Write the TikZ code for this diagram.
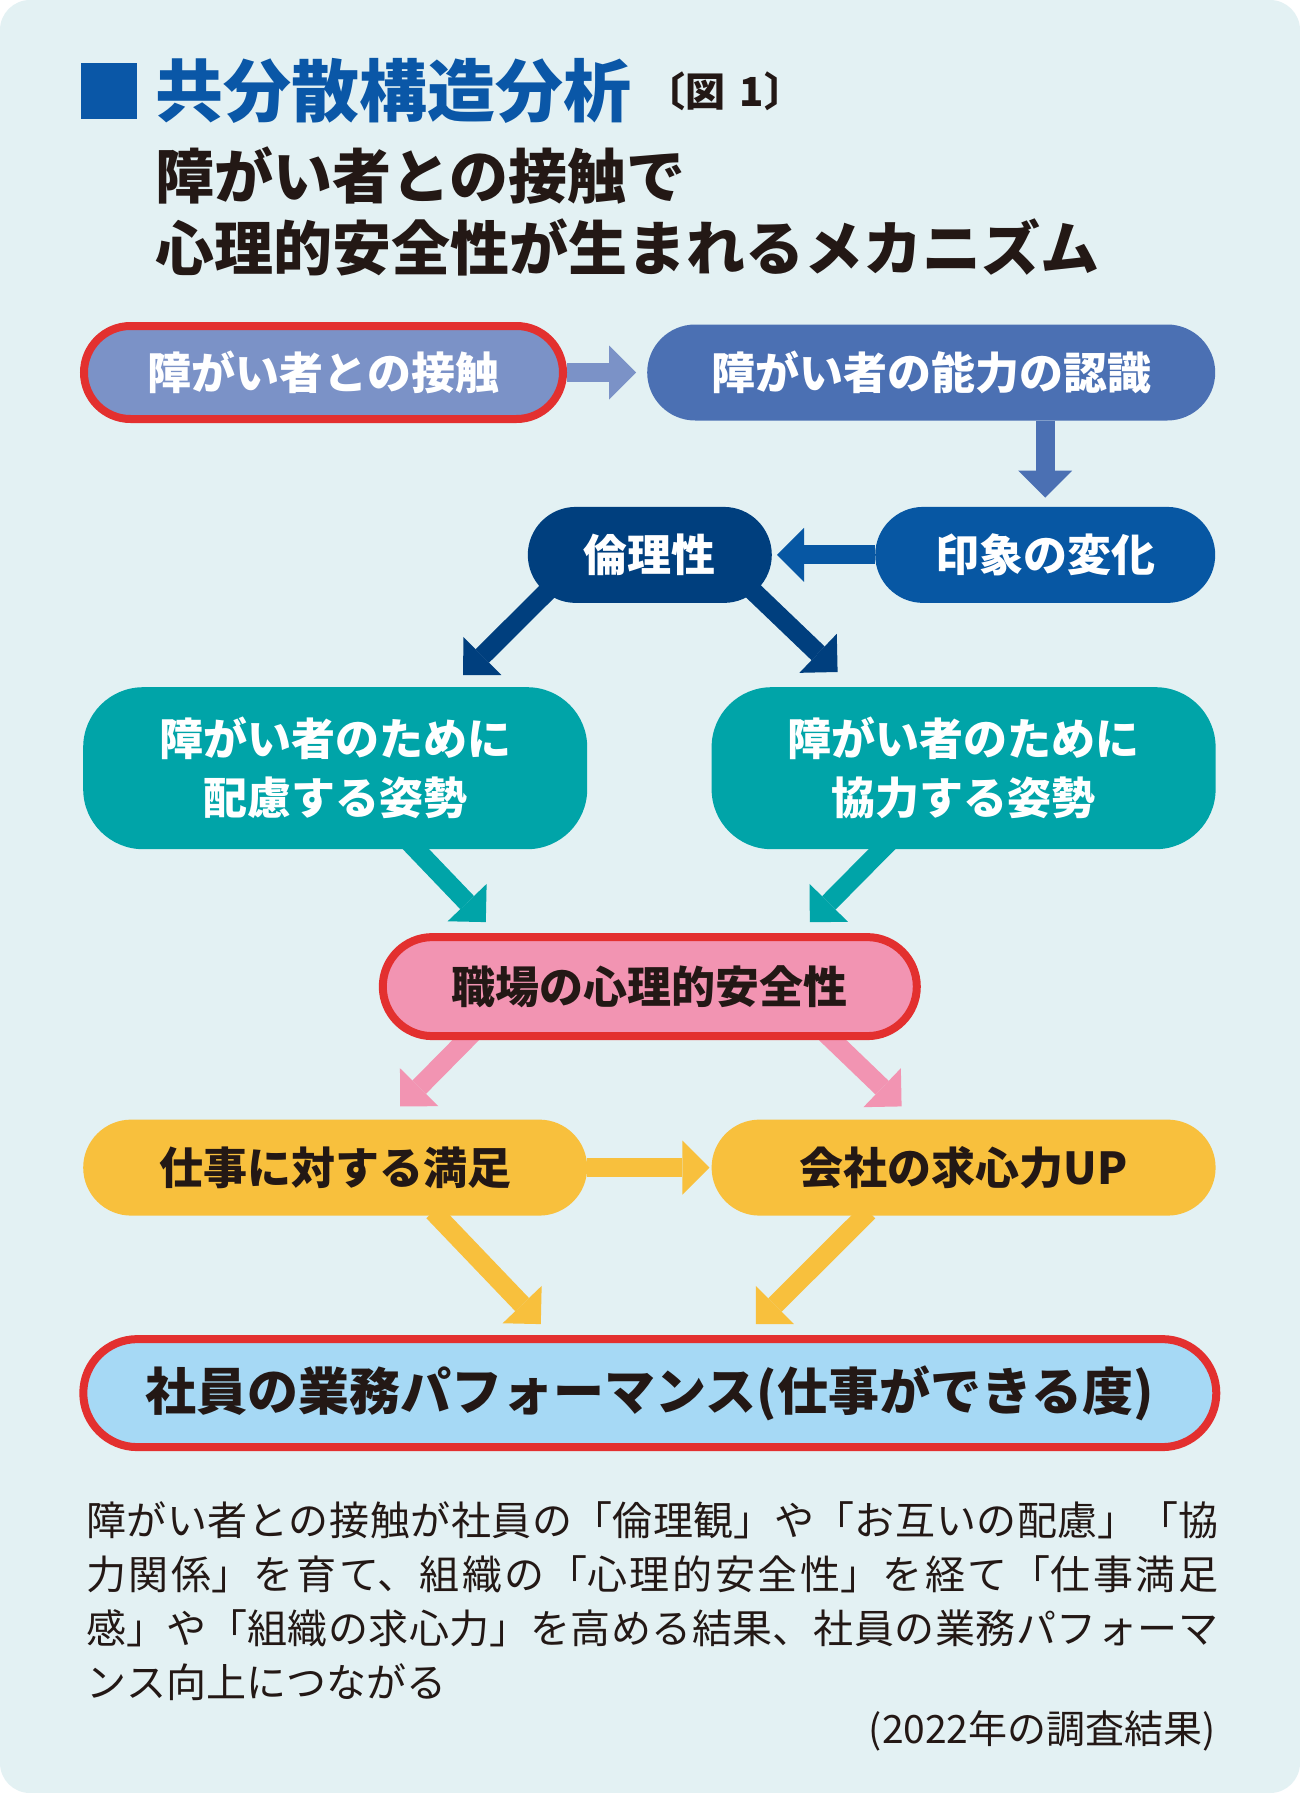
\documentclass[tikz,border=0pt]{standalone}
\usepackage{fontspec}
\setmainfont{Noto Sans CJK JP}
\XeTeXlinebreaklocale "ja"
\XeTeXlinebreakskip=0pt plus 2pt
\usetikzlibrary{positioning, arrows.meta}

\definecolor{bgcyan}{HTML}{E3F1F3}
\definecolor{titleblue}{HTML}{0A57A7}
\definecolor{inkblack}{HTML}{231815}
\definecolor{periblue}{HTML}{7B92C7}
\definecolor{midblue}{HTML}{4B70B3}
\definecolor{deepblue}{HTML}{0757A3}
\definecolor{navyblue}{HTML}{003F7E}
\definecolor{tealc}{HTML}{00A4A8}
\definecolor{pinkc}{HTML}{F294B2}
\definecolor{yellowc}{HTML}{F8C03D}
\definecolor{skyc}{HTML}{A6D9F5}
\definecolor{redline}{HTML}{E3302F}

\pgfdeclarelayer{bg}
\pgfsetlayers{bg,main}

\begin{document}
\begin{tikzpicture}[
  x=1pt, y=1pt,
  pill/.style={rounded corners=48pt, minimum height=96pt, inner sep=0pt, align=center, text=white, font=\fontsize{44}{59}\selectfont\bfseries},
  redpill/.style={pill, draw=redline, line width=8pt, text=inkblack},
  bigpill/.style={pill, rounded corners=60pt, minimum height=162pt, minimum width=504pt, fill=tealc},
  flow/.style={line width=19pt, -{Triangle[width=54pt, length=27pt, line width=0pt]}}
]
\useasboundingbox (0,0) rectangle (1300,-1793);
\begin{pgfonlayer}{bg}
\fill[white] (0,0) rectangle (1300,-1793);
\fill[bgcyan, rounded corners=30pt] (0,0) rectangle (1300,-1793);
\end{pgfonlayer}

% Heading
\node[fill=titleblue, minimum size=56pt, inner sep=0pt] (mark) at (109,-91) {};
\node[right=18pt of mark, inner sep=0pt, text=titleblue, font=\fontsize{68}{68}\selectfont\bfseries] (title) {共分散構造分析};
\node[right=14pt of title, inner sep=0pt, text=inkblack, font=\fontsize{40}{40}\selectfont\bfseries] (fig) {〔図\hspace{0.35em}1〕};
\node[anchor=north west, inner sep=0pt, align=left, text=inkblack, font=\fontsize{59}{72}\selectfont\bfseries] (subtitle) at (155,-147)
  {障がい者との接触で\\心理的安全性が生まれるメカニズム};

% Flow nodes
\node[redpill, fill=periblue, text=white, minimum width=479pt, minimum height=93pt, rounded corners=46.5pt] (sesshoku) at (323.5,-372.5) {障がい者との接触};
\node[pill, fill=midblue, minimum width=568pt, right=80pt of sesshoku] (ninshiki) {障がい者の能力の認識};
\node[pill, fill=deepblue, minimum width=340pt, below=86pt of ninshiki.south east, anchor=north east] (inshou) {印象の変化};
\node[pill, fill=navyblue, minimum width=244pt, left=103pt of inshou] (rinri) {倫理性};

\node[bigpill, below=264pt of sesshoku.south west, anchor=north west, xshift=3pt] (hairyo) {障がい者のために\\配慮する姿勢};
\node[bigpill, right=124pt of hairyo] (kyoryoku) {障がい者のために\\協力する姿勢};

\node[redpill, fill=pinkc, minimum width=534pt, minimum height=99pt, rounded corners=49.5pt, below=330pt of rinri] (anzen) {職場の心理的安全性};

\node[pill, fill=yellowc, text=inkblack, minimum width=504pt, below=270pt of hairyo] (manzoku) {仕事に対する満足};
\node[pill, fill=yellowc, text=inkblack, minimum width=504pt, right=124pt of manzoku] (kyushin) {会社の求心力UP};

\node[redpill, fill=skyc, minimum width=1133pt, minimum height=108pt, rounded corners=54pt, below=295pt of anzen, font=\fontsize{51}{51}\selectfont\bfseries] (perf) {社員の業務パフォーマンス(仕事ができる度)};

% Caption
\node[anchor=north west, inner sep=0pt, text width=1132pt, align=justify, text=inkblack, font=\fontsize{40}{54.3}\selectfont] (caption) at (86,-1501)
  {障がい者との接触が社員の「倫理観」や「お互いの配慮」「協\linebreak 力関係」を育て、組織の「心理的安全性」を経て「仕事満足\linebreak 感」や「組織の求心力」を高める結果、社員の業務パフォーマ\linebreak ンス向上につながる};
\node[anchor=east, inner sep=0pt, text=inkblack, font=\fontsize{39}{39}\selectfont] (source) at (1216,-1731) {(2022年の調査結果)};

% Connections
\begin{pgfonlayer}{bg}
\draw[flow, periblue, shorten >=11pt] (sesshoku.east) -- (ninshiki.west);
\draw[flow, midblue, shorten >=9pt] (inshou.north |- ninshiki.south) -- (inshou.north);
\draw[flow, deepblue] (inshou.west) -- ([xshift=5pt]rinri.east);

\draw[flow, navyblue] ([xshift=-77pt, yshift=-11pt]rinri.center) -- ([xshift=128pt, yshift=12pt]hairyo.north);
\draw[flow, navyblue] ([xshift=77pt, yshift=-11pt]rinri.center) -- ([xshift=-126pt, yshift=15pt]kyoryoku.north);

\draw[flow, tealc] ([xshift=53pt, yshift=-52pt]hairyo.center) -- ([xshift=-164pt, yshift=11pt]anzen.north);
\draw[flow, tealc] ([xshift=-51pt, yshift=-50pt]kyoryoku.center) -- ([xshift=160pt, yshift=11pt]anzen.north);

\draw[flow, pinkc] ([xshift=-152pt, yshift=-21pt]anzen.center) -- ([xshift=65pt, yshift=13pt]manzoku.north);
\draw[flow, pinkc] ([xshift=149pt, yshift=-21pt]anzen.center) -- ([xshift=-62pt, yshift=13pt]kyushin.north);

\draw[flow, yellowc, shorten >=2pt] (manzoku.east) -- (kyushin.west);
\draw[flow, yellowc] ([xshift=98pt, yshift=-44pt]manzoku.center) -- ([xshift=-109pt, yshift=11pt]perf.north);
\draw[flow, yellowc] ([xshift=-95pt, yshift=-44pt]kyushin.center) -- ([xshift=106pt, yshift=11pt]perf.north);
\end{pgfonlayer}
\end{tikzpicture}
\end{document}
